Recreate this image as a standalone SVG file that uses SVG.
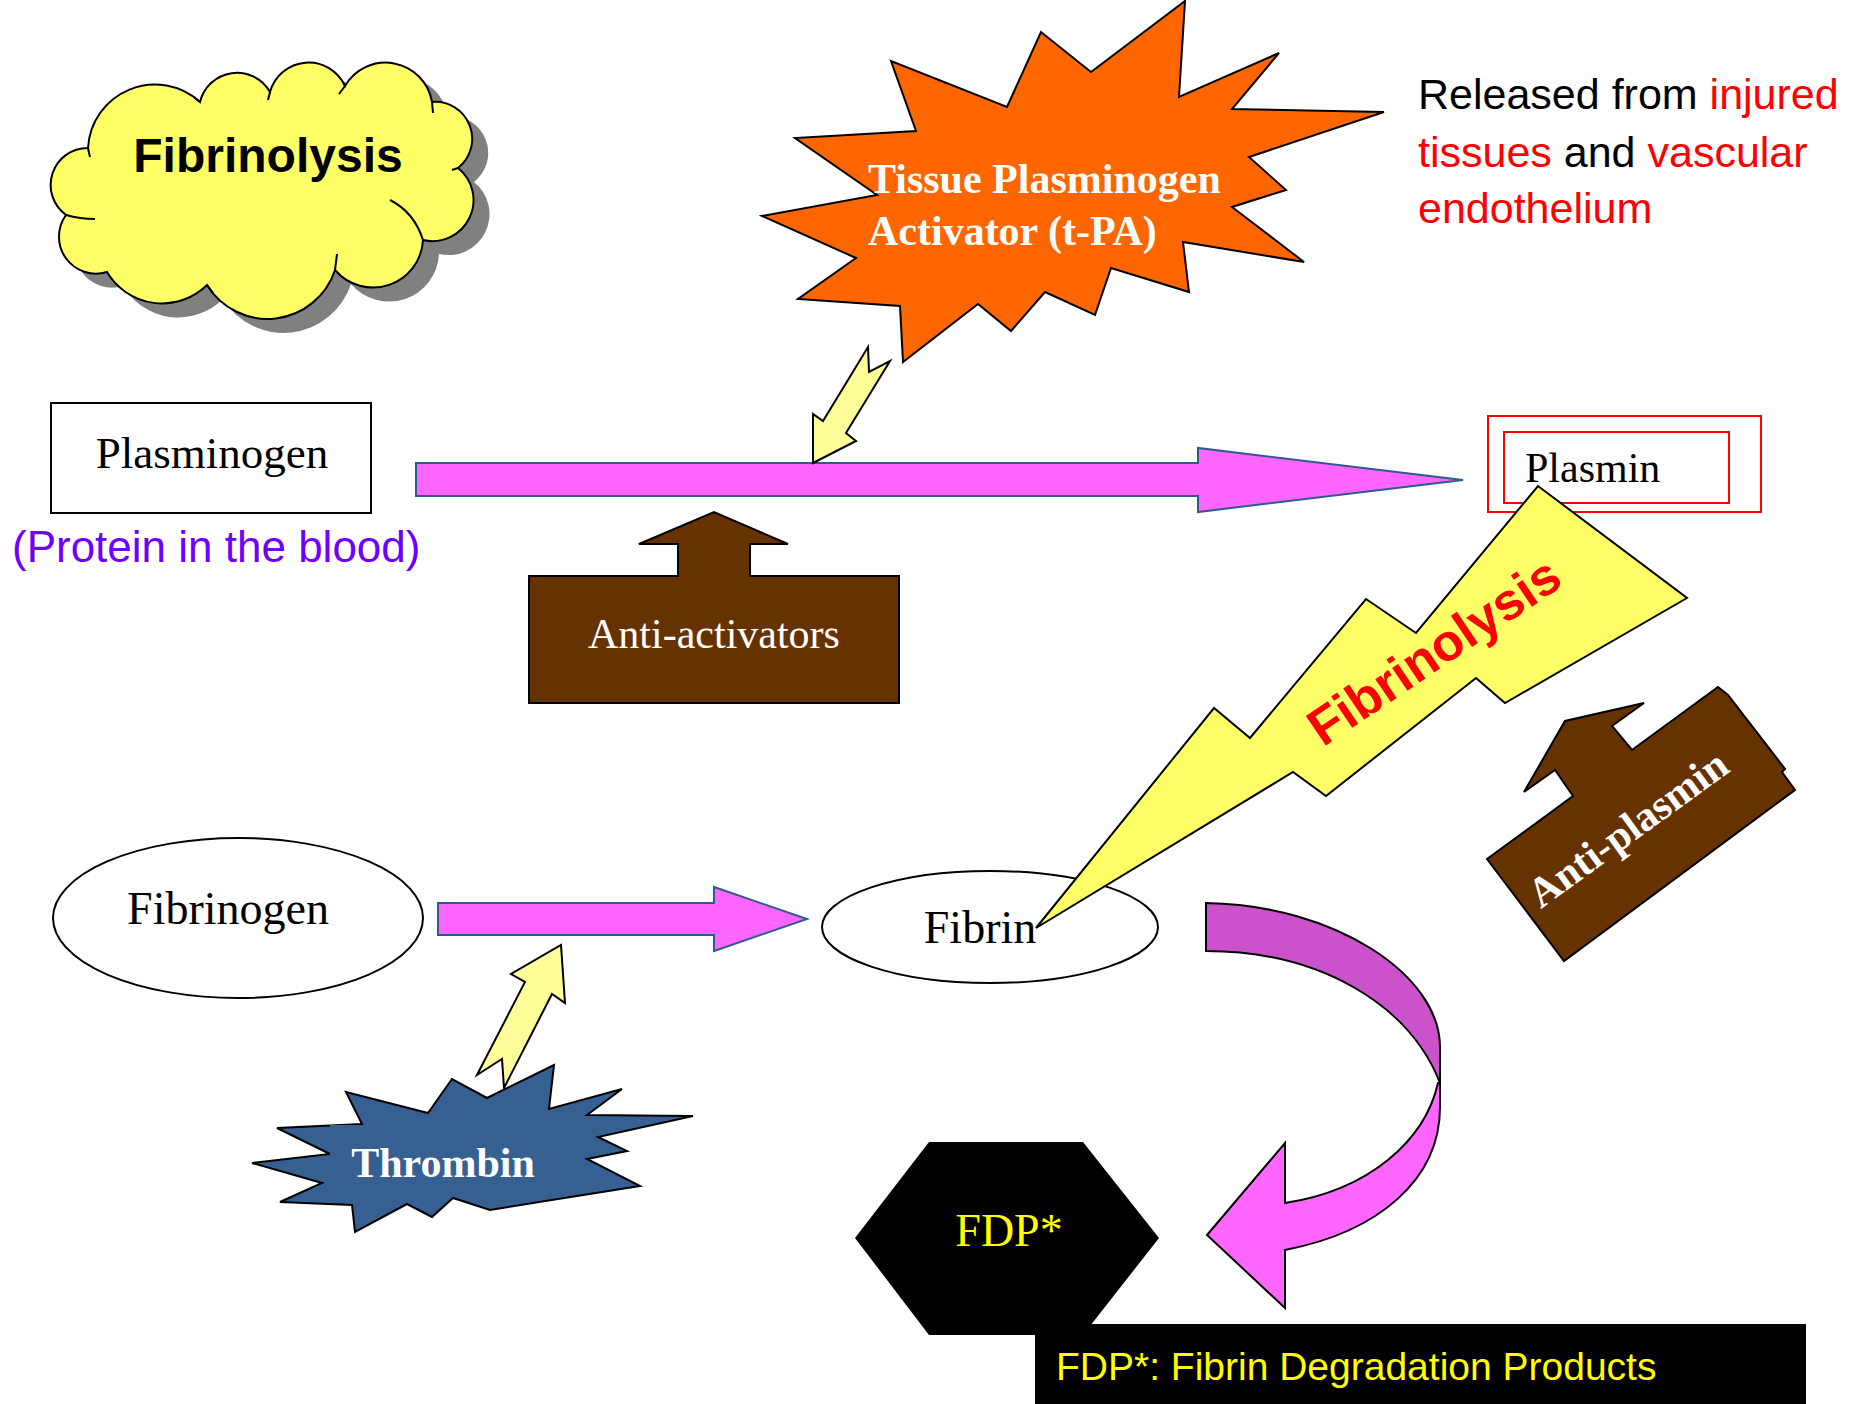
<svg xmlns="http://www.w3.org/2000/svg" width="1854" height="1404" viewBox="0 0 1854 1404">
<style>
.serif{font-family:"Liberation Serif","Times New Roman",serif}
.sans{font-family:"Liberation Sans",Arial,sans-serif}
.ol{stroke:#000;stroke-width:2;stroke-linejoin:miter}
.pink{fill:#FF66FF;stroke:#2E5C8A;stroke-width:2}
.yel{fill:#FFFF99;stroke:#000;stroke-width:2}
.red{fill:#FF0000}
</style>
<rect width="1854" height="1404" fill="#fff"/>

<g id="title-cloud">
  <path transform="translate(16,14)" fill="#808080" d="M88,148 A67,67 0 0 1 200,102 A38,38 0 0 1 270,92 A40,40 0 0 1 345,86 A47,47 0 0 1 432,102 A37,37 0 0 1 458,168 A41,41 0 0 1 423,240 A50,50 0 0 1 335,270 A71,71 0 0 1 207,285 A64,64 0 0 1 107,272 A37,37 0 0 1 66,215 A37,37 0 0 1 88,148 Z"/>
  <path class="ol" fill="#FFFF66" d="M88,148 A67,67 0 0 1 200,102 A38,38 0 0 1 270,92 A40,40 0 0 1 345,86 A47,47 0 0 1 432,102 A37,37 0 0 1 458,168 A41,41 0 0 1 423,240 A50,50 0 0 1 335,270 A71,71 0 0 1 207,285 A64,64 0 0 1 107,272 A37,37 0 0 1 66,215 A37,37 0 0 1 88,148 Z"/>
  <g fill="none" stroke="#000" stroke-width="2">
    <path d="M390,200 Q414,212 423,240"/>
    <path d="M66,215 Q80,219 95,219"/>
    <path d="M88,148 Q89,153 90,157"/>
    <path d="M207,285 L213,293"/>
    <path d="M200,102 L194,97"/>
    <path d="M270,92 L268,100"/>
    <path d="M345,86 L339,94"/>
    <path d="M432,102 L433,113"/>
    <path d="M458,168 L452,170"/>
    <path d="M335,270 L337,254"/>
  </g>
  <text class="sans" x="268" y="172" font-size="48" font-weight="bold" text-anchor="middle">Fibrinolysis</text>
</g>

<g id="tpa">
  <polygon class="ol" fill="#FF6600" points="1185,1 1179,97 1279,53 1232,109 1384,112 1249,157 1286,190 1232,207 1304,262 1183,242 1189,292 1111,268 1095,315 1045,292 1011,331 978,304 903,362 900,306 798,299 856,258 762,216 877,195 795,138 916,131 891,61 1007,107 1041,32 1091,72"/>
  <text class="serif" fill="#fff" font-weight="bold" font-size="42"><tspan x="868" y="193">Tissue Plasminogen</tspan><tspan x="868" y="245">Activator (t-PA)</tspan></text>
</g>

<g id="released-note" class="sans" font-size="43">
  <text x="1418" y="109">Released from <tspan class="red">injured</tspan></text>
  <text x="1418" y="167"><tspan class="red">tissues</tspan> and <tspan class="red">vascular</tspan></text>
  <text x="1418" y="223" class="red">endothelium</text>
</g>

<g id="plasminogen">
  <rect x="51" y="403" width="320" height="110" fill="#fff" stroke="#000" stroke-width="2"/>
  <text class="serif" x="212" y="468" font-size="45" text-anchor="middle">Plasminogen</text>
  <text class="sans" x="12" y="562" font-size="44" fill="#6F00FF">(Protein in the blood)</text>
</g>

<g id="plasmin">
  <rect x="1488" y="416" width="273" height="96" fill="#fff" stroke="#FF0000" stroke-width="2"/>
  <rect x="1504" y="432" width="225" height="71" fill="none" stroke="#FF0000" stroke-width="2"/>
  <text class="serif" x="1525" y="482" font-size="42">Plasmin</text>
</g>

<g id="anti-activators">
  <polygon class="ol" fill="#663300" points="529,576 678,576 678,544 639,544 714,512 788,544 750,544 750,576 899,576 899,703 529,703"/>
  <text class="serif" x="714" y="648" font-size="42" fill="#fff" text-anchor="middle">Anti-activators</text>
</g>

<g id="fibrinogen">
  <ellipse cx="238" cy="918" rx="185" ry="80" fill="#fff" stroke="#000" stroke-width="2"/>
  <text class="serif" x="228" y="924" font-size="46" text-anchor="middle">Fibrinogen</text>
</g>

<g id="fibrin">
  <ellipse cx="990" cy="927" rx="168" ry="56" fill="#fff" stroke="#000" stroke-width="2"/>
  <text class="serif" x="980" y="943" font-size="46" text-anchor="middle">Fibrin</text>
</g>

<g id="connectors">
  <polygon class="pink" points="416,463 1198,463 1198,448 1463,480 1198,512 1198,496 416,496"/>
  <polygon class="yel" points="868,347 869,372 890,361 846,433 856,441 813,463 813,414 823,421"/>
  <polygon class="pink" points="438,903 714,903 714,887 807,919 714,951 714,935 438,935"/>
  <polygon class="yel" points="561,945 565,1003 552,994 504,1088 502,1059 477,1075 525,982 511,974"/>
  <path class="ol" fill="#CC52CC" d="M1206,903 C1335,905 1440,975 1440,1047 L1440,1083 C1410,1005 1320,951 1206,951 Z"/>
  <path class="ol" fill="#FF66FF" d="M1438,1083 C1425,1140 1370,1190 1285,1203 L1285,1143 L1207,1235 L1285,1308 L1285,1250 C1378,1232 1440,1180 1440,1107 L1440,1083 Z"/>
</g>

<g id="thrombin">
  <polygon class="ol" fill="#376092" points="554,1065 549,1109 622,1089 587,1115 693,1116 598,1137 627,1151 587,1159 640,1186 558,1199 490,1210 453,1198 432,1217 407,1204 355,1232 352,1205 280,1202 322,1183 252,1163 330,1154 277,1128 362,1124 346,1092 428,1113 452,1079 487,1098"/>
  <rect x="330" y="1125" width="237" height="72" fill="#376092"/>
  <text class="serif" x="443" y="1177" font-size="42" font-weight="bold" fill="#fff" text-anchor="middle">Thrombin</text>
</g>

<g id="fibrinolysis-bolt">
  <polygon class="ol" fill="#FFFF66" points="1036,928 1214,708 1250,738 1366,599 1416,633 1538,486 1687,598 1505,703 1476,678 1326,796 1293,772"/>
  <text class="sans" transform="translate(1444,666) rotate(-34)" font-size="52" font-weight="bold" fill="#FF0000" text-anchor="middle">Fibrinolysis</text>
</g>

<g id="anti-plasmin">
  <polygon class="ol" fill="#663300" points="1487,859 1573,796 1555,770 1524,792 1565,721 1644,703 1612,726 1632,750 1718,687 1728,695 1785,769 1782,772 1795,790 1564,961"/>
  <text class="serif" transform="translate(1636,840) rotate(-36)" font-size="42" font-weight="bold" fill="#fff" text-anchor="middle">Anti-plasmin</text>
</g>

<g id="fdp">
  <polygon fill="#000" points="855,1238 929,1142 1083,1142 1159,1238 1083,1335 929,1335"/>
  <text class="serif" x="1009" y="1246" font-size="46" fill="#FFFF00" text-anchor="middle">FDP*</text>
</g>

<g id="fdp-legend">
  <rect x="1035" y="1324" width="771" height="80" fill="#000"/>
  <text class="sans" x="1056" y="1380" font-size="39" fill="#FFFF00">FDP*: Fibrin Degradation Products</text>
</g>
</svg>
